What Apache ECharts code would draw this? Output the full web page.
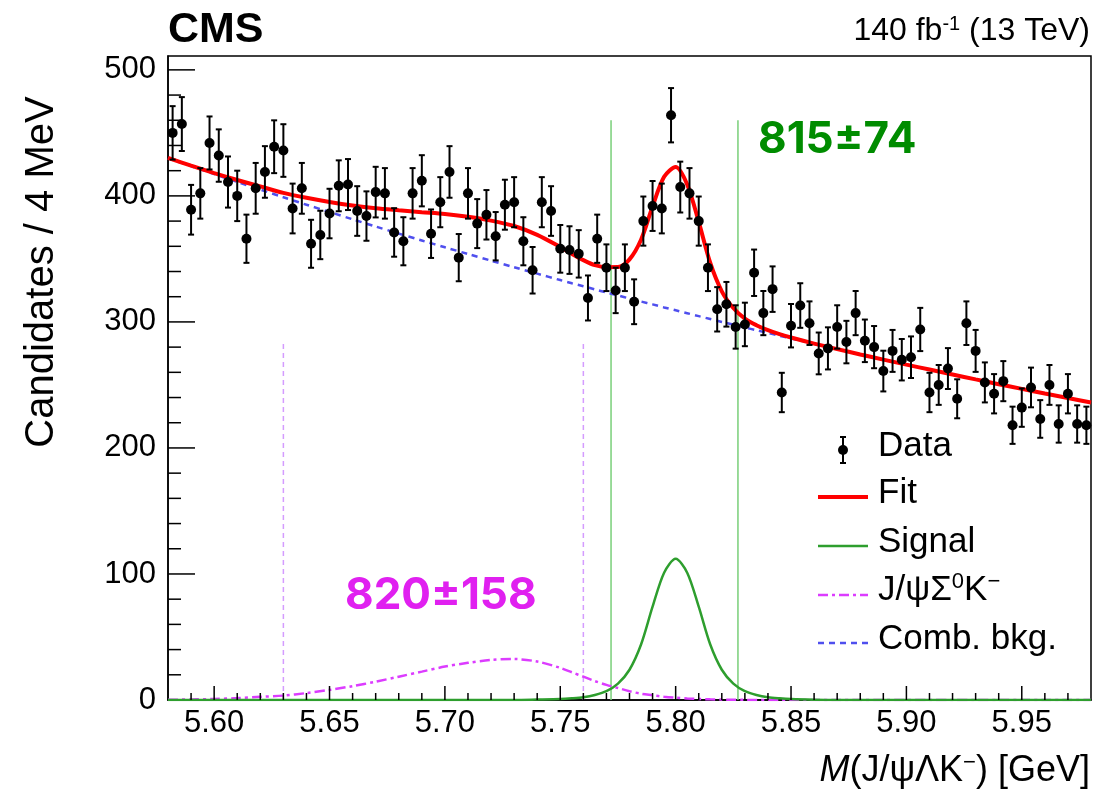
<!DOCTYPE html>
<html>
<head>
<meta charset="utf-8">
<script src="https://cdn.jsdelivr.net/npm/echarts@6/dist/echarts.min.js"></script>
<style>
  html, body { margin: 0; padding: 0; background: #fff; }
  #chart { width: 1096px; height: 802px; }
</style>
</head>
<body>
<div id="chart"></div>
<script>
// binning of the mass histogram (4 MeV bins)
const massLow = 5.58
const binWidth = 0.004

// candidates per bin
const counts = [
  450, 457, 389, 402, 442, 432, 411, 400, 366, 406,
  419, 439, 436, 390, 406, 362, 369, 386, 408, 409,
  388, 384, 403, 402, 371, 364, 402, 412, 370, 395,
  419, 351, 402, 378, 385, 368, 393, 395, 364, 341,
  395, 388, 358, 357, 354, 319, 366, 343, 325, 343,
  316, 380, 392, 390, 464, 407, 402, 380, 343, 310,
  314, 296, 298, 339, 307, 326, 244, 297, 313, 299,
  275, 279, 296, 284, 307, 285, 280, 261, 277, 270,
  272, 294, 244, 250, 263, 239, 299, 277, 252, 243,
  253, 218, 232, 248, 223, 250, 219, 243, 219, 218,
]

// sample points of the fit curves
const curveMass = [
  5.58, 5.59, 5.60, 5.61, 5.62, 5.63, 5.64, 5.65, 5.66, 5.67, 5.68, 5.69, 5.70, 5.71, 5.72, 5.73, 5.74,
  5.75, 5.755, 5.76, 5.765, 5.77, 5.775, 5.78, 5.785, 5.79, 5.795, 5.80, 5.805, 5.81, 5.815, 5.82, 5.825,
  5.83, 5.835, 5.84, 5.845, 5.85,
  5.86, 5.87, 5.88, 5.89, 5.90, 5.91, 5.92, 5.93, 5.94, 5.95, 5.96, 5.97, 5.98,
]
const fitCurve = [
  430.2, 424.0, 418.1, 412.6, 407.5, 402.4, 398.5, 395.2, 392.4, 390.2, 388.6, 387.1, 385.7, 383.4, 380.4, 376.1, 369.1,
  359.4, 354.0, 349.0, 345.0, 343.4, 343.5, 349.6, 365.2, 391.7, 415.1, 423.0, 409.1, 379.4, 346.8, 324.3, 311.0,
  302.6, 297.4, 293.4, 290.3, 287.6,
  282.8, 278.4, 274.2, 270.1, 266.1, 262.2, 258.3, 254.4, 250.6, 246.9, 243.2, 239.6, 236.0,
]
const signalCurve = [
  0, 0, 0, 0, 0, 0, 0, 0, 0, 0, 0, 0, 0, 0, 0, 0, 0.3,
  0.7, 1.3, 2.2, 4, 7, 13, 24, 44, 74, 101, 112, 101, 74, 44, 24, 13,
  7, 4, 2.2, 1.3, 0.7,
  0.2, 0, 0, 0, 0, 0, 0, 0, 0, 0, 0, 0, 0,
]
const reflCurve = [
  0.2, 0.4, 0.8, 1.5, 2.5, 3.5, 5.5, 8, 11, 14.5, 18.5, 22.5, 26.5, 29.5, 31.8, 32.5, 30.5,
  25.5, 22, 18.5, 15, 12, 9.5, 7, 5, 3.8, 2.6, 1.8, 1.2, 0.8, 0.5, 0.3, 0.2,
  0.1, 0, 0, 0, 0,
  0, 0, 0, 0, 0, 0, 0, 0, 0, 0, 0, 0, 0,
]
const combCurve = [
  430.0, 423.6, 417.3, 411.1, 405.0, 398.9, 393.0, 387.2, 381.4, 375.7, 370.1, 364.6, 359.2, 353.9, 348.6, 343.4, 338.3,
  333.2, 330.7, 328.3, 325.8, 323.4, 321.0, 318.6, 316.2, 313.9, 311.5, 309.2, 306.9, 304.6, 302.3, 300.0, 297.8,
  295.6, 293.4, 291.2, 289.0, 286.9,
  282.6, 278.4, 274.2, 270.1, 266.1, 262.2, 258.3, 254.4, 250.6, 246.9, 243.2, 239.6, 236.0,
]

// counting windows
const signalWindow = [5.772, 5.827]
const signalWindowTop = 460
const reflWindow = [5.63, 5.76]
const reflWindowTop = 283

// ticks
const xMajorTicks = [5.60, 5.65, 5.70, 5.75, 5.80, 5.85, 5.90, 5.95]
const xMinorTicks = [
  5.59, 5.61, 5.62, 5.63, 5.64, 5.66, 5.67, 5.68, 5.69, 5.71, 5.72, 5.73, 5.74,
  5.76, 5.77, 5.78, 5.79, 5.81, 5.82, 5.83, 5.84, 5.86, 5.87, 5.88, 5.89,
  5.91, 5.92, 5.93, 5.94, 5.96, 5.97,
]
const yMajorTicks = [100, 200, 300, 400, 500]
const yMinorTicks = [
  20, 40, 60, 80, 120, 140, 160, 180, 220, 240, 260, 280,
  320, 340, 360, 380, 420, 440, 460, 480,
]

const font = "'Liberation Sans', Arial, sans-serif"
const red = '#ff0000'
const green = '#2e9e2e'
const magenta = '#dc3cff'
const blue = '#4f4fee'

const binCenters = counts.map((_, i) => +(massLow + binWidth * (i + 0.5)).toFixed(4))
const pairs = (ys) => curveMass.map((x, i) => [x, ys[i]])

function tickSeries(values, dir, len) {
  return {
    type: 'custom',
    silent: true,
    z: 10,
    data: values.map(v => [v]),
    renderItem(params, api) {
      const v = api.value(0)
      const p = dir === 'x' ? api.coord([v, 0]) : api.coord([massLow, v])
      const shape = dir === 'x'
        ? { x1: p[0], y1: p[1], x2: p[0], y2: p[1] - len }
        : { x1: p[0], y1: p[1], x2: p[0] + len, y2: p[1] }
      return { type: 'line', shape, style: { stroke: '#000', lineWidth: 1.5 } }
    },
  }
}

function windowSeries(xs, top, color, dash) {
  return {
    type: 'custom',
    silent: true,
    z: 1,
    data: xs.map(x => [x, top]),
    renderItem(params, api) {
      const a = api.coord([api.value(0), 0])
      const b = api.coord([api.value(0), api.value(1)])
      return {
        type: 'line',
        shape: { x1: a[0], y1: a[1], x2: b[0], y2: b[1] },
        style: { stroke: color, lineWidth: 1.5, lineDash: dash },
      }
    },
  }
}

const chart = echarts.init(document.getElementById('chart'))

const legendX = 818
const legendRows = [450, 497, 546, 595, 643]
const sub = { fontSize: 22, fontFamily: font, fill: '#000', padding: [0, 0, 16, 0] }

const option = {
  backgroundColor: '#fff',
  animation: false,
  grid: { left: 168, right: 5, top: 56, bottom: 102, show: true, borderColor: '#000', borderWidth: 1.5 },
  xAxis: {
    type: 'value',
    min: 5.58,
    max: 5.98,
    interval: 0.01,
    axisLine: { lineStyle: { color: '#000', width: 1.5 } },
    axisTick: { show: false },
    splitLine: { show: false },
    axisLabel: {
      margin: 8,
      fontSize: 31,
      fontFamily: font,
      color: '#000',
      showMinLabel: false,
      showMaxLabel: false,
      formatter: v => (Math.round(v * 100) % 5 === 0 ? v.toFixed(2) : ''),
    },
  },
  yAxis: {
    type: 'value',
    min: 0,
    max: 511,
    interval: 100,
    axisLine: { show: true, lineStyle: { color: '#000', width: 1.5 } },
    axisTick: { show: false },
    splitLine: { show: false },
    axisLabel: { margin: 12, fontSize: 31, fontFamily: font, color: '#000', showMaxLabel: false },
  },
  graphic: [
    { type: 'text', left: 168, top: 9, style: { text: 'CMS', font: `bold 43px ${font}`, fill: '#000' } },
    {
      type: 'text', right: 6, top: 14,
      style: {
        text: '{a|140 fb}{s|-1}{a| (13 TeV)}',
        rich: { a: { fontSize: 32, fontFamily: font, fill: '#000' }, s: { fontSize: 20, fontFamily: font, fill: '#000', padding: [0, 0, 14, 0] } },
      },
    },
    {
      type: 'text', x: 42, y: 272, rotation: Math.PI / 2,
      style: { text: 'Candidates / 4 MeV', font: `40px ${font}`, fill: '#000', align: 'center', verticalAlign: 'middle' },
    },
    {
      type: 'text', right: 6, top: 752,
      style: {
        text: '{i|M}{a|(J/ψΛK}{s|−}{a|) [GeV]}',
        rich: {
          i: { fontSize: 36, fontFamily: font, fontStyle: 'italic', fill: '#000' },
          a: { fontSize: 36, fontFamily: font, fill: '#000' },
          s: { fontSize: 22, fontFamily: font, fill: '#000', padding: [0, 0, 16, 0] },
        },
      },
    },
    { type: 'text', left: 758, top: 118, style: { text: '815±74', font: `bold 44px Inter, ${font}`, fill: '#008c00' } },
    { type: 'text', left: 345, top: 574, style: { text: '820±158', font: `bold 44px Inter, ${font}`, fill: '#e020f0' } },
    // legend
    { type: 'line', shape: { x1: legendX + 25, y1: legendRows[0] - 13, x2: legendX + 25, y2: legendRows[0] + 13 }, style: { stroke: '#000', lineWidth: 2 } },
    { type: 'line', shape: { x1: legendX + 22, y1: legendRows[0] - 13, x2: legendX + 28, y2: legendRows[0] - 13 }, style: { stroke: '#000', lineWidth: 2 } },
    { type: 'line', shape: { x1: legendX + 22, y1: legendRows[0] + 13, x2: legendX + 28, y2: legendRows[0] + 13 }, style: { stroke: '#000', lineWidth: 2 } },
    { type: 'circle', shape: { cx: legendX + 25, cy: legendRows[0], r: 5 }, style: { fill: '#000' } },
    { type: 'line', shape: { x1: legendX, y1: legendRows[1], x2: legendX + 50, y2: legendRows[1] }, style: { stroke: red, lineWidth: 4 } },
    { type: 'line', shape: { x1: legendX, y1: legendRows[2], x2: legendX + 50, y2: legendRows[2] }, style: { stroke: green, lineWidth: 2.5 } },
    { type: 'line', shape: { x1: legendX, y1: legendRows[3], x2: legendX + 50, y2: legendRows[3] }, style: { stroke: magenta, lineWidth: 2.5, lineDash: [10, 4, 3, 4] } },
    { type: 'line', shape: { x1: legendX, y1: legendRows[4], x2: legendX + 50, y2: legendRows[4] }, style: { stroke: blue, lineWidth: 2.5, lineDash: [6, 5] } },
    { type: 'text', left: 878, top: legendRows[0] - 21, style: { text: 'Data', font: `35px ${font}`, fill: '#000' } },
    { type: 'text', left: 878, top: legendRows[1] - 21, style: { text: 'Fit', font: `35px ${font}`, fill: '#000' } },
    { type: 'text', left: 878, top: legendRows[2] - 21, style: { text: 'Signal', font: `35px ${font}`, fill: '#000' } },
    {
      type: 'text', left: 878, top: legendRows[3] - 24,
      style: {
        text: '{a|J/ψΣ}{s|0}{a|K}{s|−}',
        rich: { a: { fontSize: 35, fontFamily: font, fill: '#000' }, s: sub },
      },
    },
    { type: 'text', left: 878, top: legendRows[4] - 21, style: { text: 'Comb. bkg.', font: `35px ${font}`, fill: '#000' } },
  ],
  series: [
    windowSeries(reflWindow, reflWindowTop, '#d49cff', [5, 4]),
    windowSeries(signalWindow, signalWindowTop, '#79cf79', null),
    {
      name: 'Comb. bkg.', type: 'line', data: pairs(combCurve), smooth: 0.3, showSymbol: false, z: 2,
      lineStyle: { color: blue, width: 2.5, type: [6, 5] },
    },
    {
      name: 'J/ψΣ0K-', type: 'line', data: pairs(reflCurve), smooth: 0.3, showSymbol: false, z: 3,
      lineStyle: { color: magenta, width: 2.5, type: [10, 4, 3, 4] },
    },
    {
      name: 'Signal', type: 'line', data: pairs(signalCurve), smooth: 0.3, showSymbol: false, z: 4,
      lineStyle: { color: green, width: 2.5 },
    },
    {
      name: 'Fit', type: 'line', data: pairs(fitCurve), smooth: 0.3, showSymbol: false, z: 5,
      lineStyle: { color: red, width: 4 },
    },
    {
      name: 'errors', type: 'custom', z: 6, silent: true,
      data: counts.map((n, i) => [binCenters[i], n, Math.sqrt(n)]),
      renderItem(params, api) {
        const x = api.value(0), y = api.value(1), e = api.value(2)
        const hi = api.coord([x, y + e])
        const lo = api.coord([x, y - e])
        const st = { stroke: '#000', lineWidth: 2 }
        return {
          type: 'group',
          children: [
            { type: 'line', shape: { x1: hi[0], y1: hi[1], x2: lo[0], y2: lo[1] }, style: st },
            { type: 'line', shape: { x1: hi[0] - 3, y1: hi[1], x2: hi[0] + 3, y2: hi[1] }, style: st },
            { type: 'line', shape: { x1: lo[0] - 3, y1: lo[1], x2: lo[0] + 3, y2: lo[1] }, style: st },
          ],
        }
      },
    },
    {
      name: 'Data', type: 'scatter', z: 7, symbolSize: 10,
      itemStyle: { color: '#000', opacity: 1 },
      data: counts.map((n, i) => [binCenters[i], n]),
    },
    tickSeries(xMajorTicks, 'x', 14),
    tickSeries(xMinorTicks, 'x', 7),
    tickSeries(yMajorTicks, 'y', 27),
    tickSeries(yMinorTicks, 'y', 13),
  ],
}

chart.setOption(option)
</script>
</body>
</html>
